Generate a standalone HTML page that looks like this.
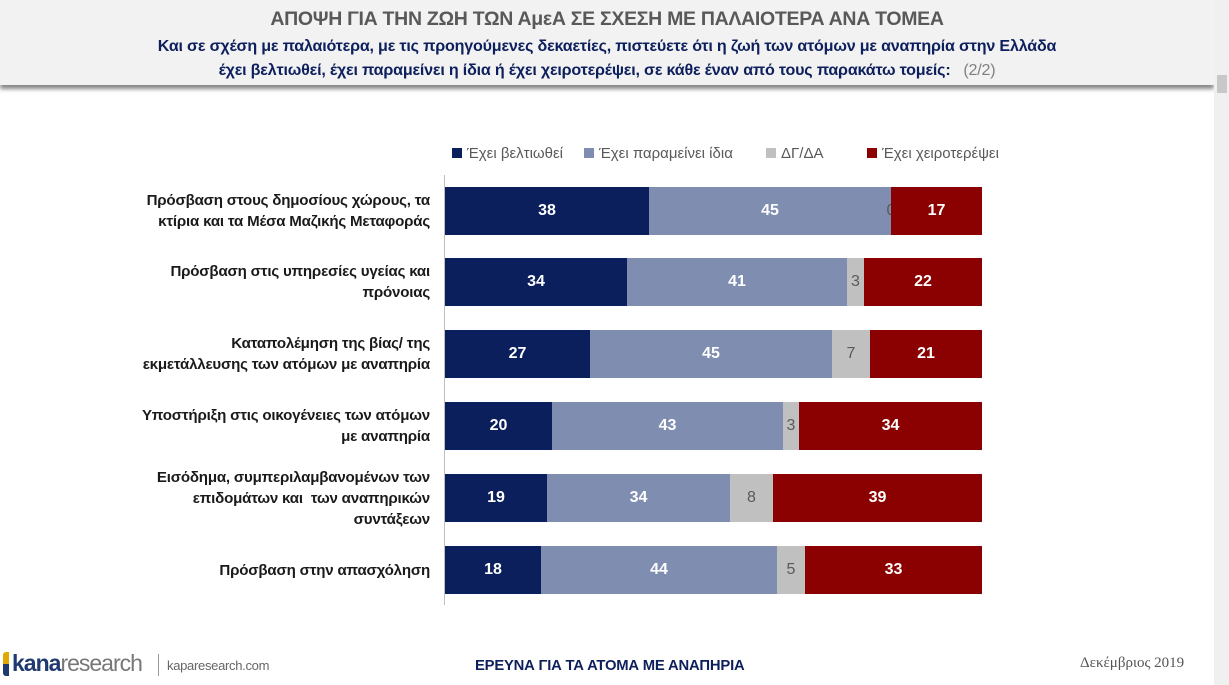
<!DOCTYPE html>
<html><head><meta charset="utf-8"><style>
body{margin:0;width:1229px;height:685px;background:#fff;position:relative;overflow:hidden;font-family:"Liberation Sans",sans-serif}
.hdr{position:absolute;left:0;top:0;width:1214px;height:85px;background:#f2f2f2;box-shadow:0 4px 4px #888}
.sb{position:absolute;left:1214px;top:0;width:15px;height:685px;background:#f0f0f0}
.sb div{position:absolute;left:3px;top:75px;width:10px;height:18px;background:#c8c8c8}
.t1{position:absolute;left:0;width:1214px;text-align:center;top:8px;font:bold 19.5px "Liberation Sans",sans-serif;color:#595959;letter-spacing:-0.3px}
.t2{position:absolute;left:0;width:1214px;text-align:center;font:bold 16.1px "Liberation Sans",sans-serif;color:#0d1f5c;letter-spacing:-0.2px}
.leg{position:absolute;top:145px;font:15px "Liberation Sans",sans-serif;color:#595959}
.leg span{display:inline-block;width:10px;height:10px;margin-right:5px;vertical-align:0}
.axis{position:absolute;left:444px;top:175px;width:1px;height:430px;background:#bfbfbf}
.bar{position:absolute;left:445px;height:48px;display:flex}
.bar div{height:48px;display:flex;align-items:center;justify-content:center;font:bold 16px "Liberation Sans",sans-serif;color:#fff;overflow:visible;white-space:nowrap}
.a{background:#0a1f5c}.b{background:#7f8db0}.c{background:#c0c0c0;color:#595959!important;font-weight:normal!important}.d{background:#8b0000}
.lab{position:absolute;left:100px;width:330px;text-align:right;font:bold 15.1px "Liberation Sans",sans-serif;letter-spacing:-0.2px;color:#1a1a1a;line-height:21px;display:flex;align-items:center;justify-content:flex-end;height:48px}
</style></head><body>
<div class="hdr"></div><div class="sb"><div></div></div>
<div class="t1">ΑΠΟΨΗ ΓΙΑ ΤΗΝ ΖΩΗ ΤΩΝ ΑμεΑ ΣΕ ΣΧΕΣΗ ΜΕ ΠΑΛΑΙΟΤΕΡΑ ΑΝΑ ΤΟΜΕΑ</div>
<div class="t2" style="top:37px">Και σε σχέση με παλαιότερα, με τις προηγούμενες δεκαετίες, πιστεύετε ότι η ζωή των ατόμων με αναπηρία στην Ελλάδα</div>
<div class="t2" style="top:61px">έχει βελτιωθεί, έχει παραμείνει η ίδια ή έχει χειροτερέψει, σε κάθε έναν από τους παρακάτω τομείς: &nbsp; <span style="color:#808080;font-weight:normal">(2/2)</span></div>
<div class="leg" style="left:452px"><span style="background:#0a1f5c"></span>Έχει βελτιωθεί</div>
<div class="leg" style="left:584px"><span style="background:#7f8db0"></span>Έχει παραμείνει ίδια</div>
<div class="leg" style="left:766px"><span style="background:#c0c0c0"></span>ΔΓ/ΔΑ</div>
<div class="leg" style="left:867px"><span style="background:#8b0000"></span>Έχει χειροτερέψει</div>
<div class="axis"></div>

<div class="lab" style="top:187px">Πρόσβαση στους δημοσίους χώρους, τα<br>κτίρια και τα Μέσα Μαζικής Μεταφοράς</div>
<div class="bar" style="top:187px"><div class="a" style="width:204px">38</div><div class="b" style="width:242px">45</div><div class="c" style="width:0">0</div><div class="d" style="width:91px">17</div></div>

<div class="lab" style="top:258px">Πρόσβαση στις υπηρεσίες υγείας και<br>πρόνοιας</div>
<div class="bar" style="top:258px"><div class="a" style="width:182px">34</div><div class="b" style="width:220px">41</div><div class="c" style="width:17px">3</div><div class="d" style="width:118px">22</div></div>

<div class="lab" style="top:330px">Καταπολέμηση της βίας/ της<br>εκμετάλλευσης των ατόμων με αναπηρία</div>
<div class="bar" style="top:330px"><div class="a" style="width:145px">27</div><div class="b" style="width:242px">45</div><div class="c" style="width:38px">7</div><div class="d" style="width:112px">21</div></div>

<div class="lab" style="top:402px">Υποστήριξη στις οικογένειες των ατόμων<br>με αναπηρία</div>
<div class="bar" style="top:402px"><div class="a" style="width:107px">20</div><div class="b" style="width:231px">43</div><div class="c" style="width:16px">3</div><div class="d" style="width:183px">34</div></div>

<div class="lab" style="top:474px;">Εισόδημα, συμπεριλαμβανομένων των<br>επιδομάτων και &nbsp;των αναπηρικών<br>συντάξεων</div>
<div class="bar" style="top:474px"><div class="a" style="width:102px">19</div><div class="b" style="width:183px">34</div><div class="c" style="width:43px">8</div><div class="d" style="width:209px">39</div></div>

<div class="lab" style="top:546px">Πρόσβαση στην απασχόληση</div>
<div class="bar" style="top:546px"><div class="a" style="width:96px">18</div><div class="b" style="width:236px">44</div><div class="c" style="width:28px">5</div><div class="d" style="width:177px">33</div></div>

<div style="position:absolute;left:3px;top:652px;width:6px;height:24px;background:linear-gradient(#e0a800 50%,#1f3a70 50%);border-radius:3px 0 0 3px"></div>
<div style="position:absolute;left:12px;top:650px;font:bold 23px 'Liberation Sans',sans-serif;color:#1f3a70;letter-spacing:-1px">kana<span style="font-weight:normal;color:#777">research</span></div>
<div style="position:absolute;left:158px;top:654px;width:1px;height:22px;background:#999"></div>
<div style="position:absolute;left:167px;top:658px;font:13px 'Liberation Sans',sans-serif;color:#666;letter-spacing:-0.3px">kaparesearch.com</div>
<div style="position:absolute;left:475px;top:658px;font:bold 14.8px 'Liberation Sans',sans-serif;color:#0d1f5c;letter-spacing:-0.2px">ΕΡΕΥΝΑ ΓΙΑ ΤΑ ΑΤΟΜΑ ΜΕ ΑΝΑΠΗΡΙΑ</div>
<div style="position:absolute;left:1080px;top:655px;font:15px 'Liberation Serif',serif;color:#555">Δεκέμβριος 2019</div>
</body></html>
